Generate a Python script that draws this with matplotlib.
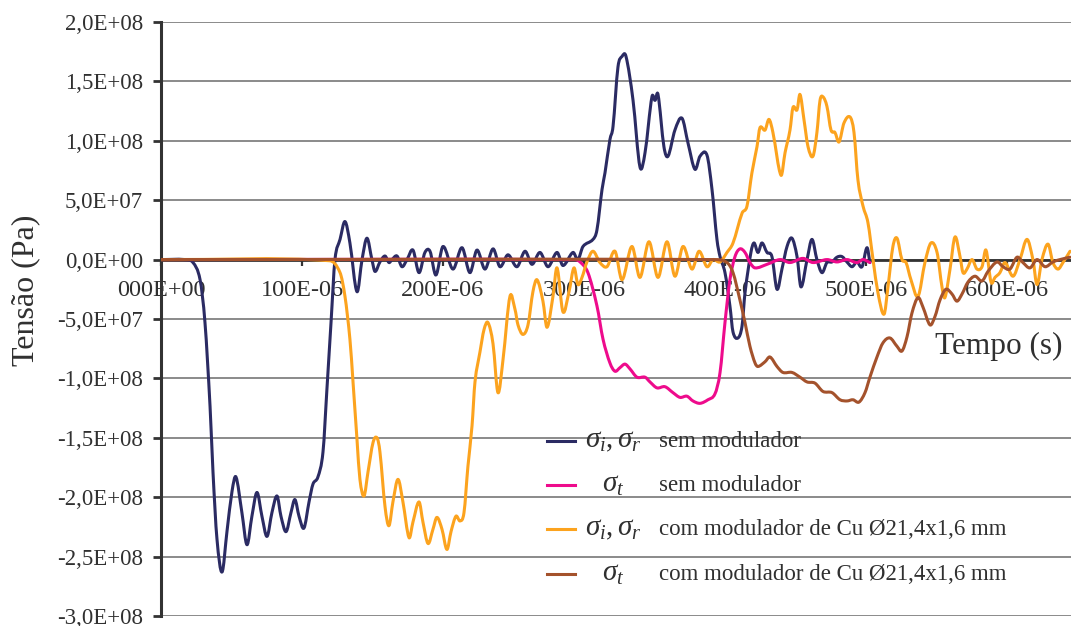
import numpy as np
import matplotlib
matplotlib.use('Agg')
import matplotlib.pyplot as plt
from matplotlib.lines import Line2D
from matplotlib.path import Path
from matplotlib.patches import PathPatch

# values: time in microseconds, stress in MPa
t_nav = [0, 17.0, 22.7, 27.7, 31.2, 34.8, 36.9, 39.7, 43.3, 46.8, 50.4, 53.2, 57.4, 61.0, 64.5,
         68.1, 71.6, 75.2, 78.7, 82.3, 85.1, 88.7, 92.2, 95.0, 97.9, 101.4, 105.0, 107.8, 111.3,
         114.9, 117.7, 120.6, 123.4, 127.0, 130.5, 134.0, 139.0, 142.6, 146.1, 149.6, 151.8,
         155.3, 158.9, 161.7, 163.8, 167.4, 170.9, 174.5, 178.7, 183.0, 187.2, 190.8, 195.0,
         200.0, 207.1, 213.5, 219.1, 224.1, 229.8, 235.5, 240.4, 246.1, 252.5, 258.2, 263.1,
         268.8, 274.5, 280.9, 285.1, 292.2, 295.7, 299.3, 306.4, 309.2, 312.8, 314.9, 318.4,
         320.6, 324.1, 327.0, 329.8, 334.8, 339.7, 343.3, 348.2, 350.4, 352.5, 356.7, 359.6,
         364.5, 369.5, 373.8, 378.7, 382.3, 387.2, 390.8, 394.3, 396.5, 400.0, 403.5, 405.7,
         409.2, 412.1, 414.2, 418.4, 420.6, 423.4, 426.2, 429.8, 433.3, 436.9, 440.4, 444.0,
         447.5, 451.1, 453.9, 458.2, 461.7, 465.2, 468.8, 472.3, 475.9, 479.4, 483.0, 486.5,
         490.1, 493.6, 497.2, 500.7, 502.8]
s_nav = [0, 0, -2.5, -16.8, -52.9, -123.5, -179, -235, -263, -229, -195, -183, -213, -240, -216,
         -196, -216, -233, -213, -199, -216, -229, -213, -202, -216, -226, -204, -189, -183,
         -162, -109, -53, 0, 17, 32, 14, -27, 0, 18, 0, -10,
         -2, 3, -2.5, 0, 3, -6, 0, 8, -11, 6, 7, -13,
         11, -8, 10, -11, 8, -8, 9, -6, 4, -6, 7, -4,
         6, -6, 6, -5, 6, 0, 11, 17, 25, 59, 73, 101,
         112, 162, 171, 171, 134, 78, 90, 137, 134, 139, 95, 87,
         109, 119, 98, 76, 87, 88, 59, 17, 2.5, -11, -39, -61,
         -66, -56, -28, 6, 14, 6, 14, 6, 2.5, -25, -8, 11,
         18, 2.5, -23, 0, 17, 0, -11, -2.5, -2, 2, 2.5, -2,
         -6, -2, -6, 10, -2.5]

t_pink = [0, 293.6, 297.2, 302.8, 309.2, 313.5, 318.4, 322.0, 325.5, 329.1, 332.6, 337.6, 343.3,
          346.8, 351.8, 357.4, 363.1, 368.1, 373.0, 377.3, 382.3, 387.9, 392.9, 396.5, 400.0,
          403.5, 407.1, 410.6, 414.2, 417.7, 421.3, 429.8, 439.0, 446.1, 455.3, 462.4, 472.3,
          479.4, 486.5, 493.6, 497.9, 502.8]
s_pink = [0, 0, -2, -11, -39, -67, -87, -94, -91, -88, -92, -99, -99,
          -103, -108, -107, -112, -116, -115, -119, -121, -118, -113, -95, -53,
          -17, 2.5, 9, 6, -2.5, -7, -4, 0, -2.5, 1, -2.5, 0,
          -2, 0, -2.5, 0, -2.5]

t_orng = [0, 119.9, 127.0, 130.5, 134.0, 136.2, 139.0, 141.1, 144.0, 146.8, 150.4, 153.2, 155.3,
          158.9, 161.7, 164.5, 168.1, 171.6, 175.9, 178.7, 183.0, 185.8, 189.4, 192.9, 195.7,
          199.3, 202.8, 205.7, 209.2, 212.1, 214.9, 217.7, 220.6, 222.7, 226.2, 229.1, 231.9,
          235.5, 239.0, 242.6, 247.5, 251.1, 253.2, 256.7, 260.3, 263.8, 266.7, 270.9, 273.8,
          278.0, 280.9, 285.1, 289.4, 292.9, 295.7, 298.6, 302.1, 306.4, 311.3, 316.3, 322.0,
          327.0, 334.0, 339.7, 346.1, 352.5, 358.9, 364.5, 370.2, 376.6, 381.6, 387.2, 391.5,
          396.5, 401.4, 405.7, 412.1, 415.6, 419.1, 422.7, 424.8, 428.4, 431.2, 434.0, 439.7,
          442.6, 446.1, 448.2, 451.1, 453.2, 456.0, 458.9, 462.4, 465.2, 467.4, 469.5, 472.3,
          475.2, 478.0, 480.9, 484.4, 488.7, 491.5, 494.3, 497.9, 501.4, 505.0, 508.5, 512.8,
          515.6, 519.1, 522.0, 525.5, 528.4, 531.9, 536.9, 541.8, 546.1, 550.4, 553.9, 556.0,
          559.6, 563.1, 566.7, 568.8, 571.6, 575.2, 578.7, 582.3, 585.1, 588.7, 591.5, 595.0,
          598.6, 604.3, 609.2, 614.2, 618.4, 621.3, 624.8, 629.1, 632.6, 636.2, 639.7, 644.7]
s_orng = [0, -1, -11, -31, -67, -103, -151, -185, -199, -179, -154, -150, -162,
          -208, -224, -204, -185, -204, -234, -221, -204, -221, -239, -227, -217,
          -227, -244, -229, -216, -220, -213, -174, -140, -103, -78, -59, -53,
          -71, -112, -84, -31, -42, -55, -63, -55, -27, -17, -35, -57,
          -31, -7, -44, -27, -7, -21, -15, -2, 7, -2.5, -6, 7,
          -17, 11, -15, 15, -15, 15, -14, 11, -8, 7, -6, 0,
          -2, 6, 14, 39, 45, 73, 95, 111, 109, 118, 107, 71,
          90, 109, 128, 126, 139, 118, 95, 87, 107, 134, 137, 129,
          109, 107, 99, 115, 120, 107, 67, 45, 31, 0, -28, -46,
          -23, 11, 18, 0, -2.5, -17, -31, -2.5, 14, 6, -23, -32,
          -8, 19, 2.5, -11, -8, 0, -8, -6, 8, -19, -15, -11,
          -2.5, -14, 0, 17, 0, -21, 0, 13, -2.5, -8, -2.5, 7]

t_brwn = [0, 392.9, 401.4, 405.7, 410.6, 414.2, 417.7, 421.3, 423.4, 428.4, 431.9, 436.9, 441.1,
          447.5, 453.2, 458.2, 463.8, 469.5, 475.9, 481.6, 486.5, 490.8, 495.0, 499.3, 502.8,
          507.8, 512.1, 517.0, 522.0, 525.5, 529.1, 532.6, 536.9, 540.4, 545.4, 548.9, 552.5,
          556.7, 561.0, 564.5, 568.1, 572.3, 577.3, 582.3, 586.5, 592.9, 597.2, 602.1, 607.1,
          611.3, 616.3, 621.3, 627.0, 632.6, 637.6, 644.7]
s_brwn = [0, 0, -2.5, -11, -34, -53, -73, -87, -90, -86, -82, -90, -95,
          -95, -99, -103, -104, -111, -112, -118, -119, -118, -120, -112, -99,
          -82, -70, -66, -73, -77, -65, -45, -32, -40, -55, -48, -34,
          -25, -29, -35, -29, -19, -14, -18, -10, -2, -6, -8, 2,
          -2.5, -7, 0, -6, -2, 0, 2]

y_ticks = [2.0e8, 1.5e8, 1.0e8, 5.0e7, 0.0, -5.0e7, -1.0e8, -1.5e8, -2.0e8, -2.5e8, -3.0e8]
y_tick_labels = ['2,0E+08', '1,5E+08', '1,0E+08', '5,0E+07', '0,0E+00', '-5,0E+07',
                 '-1,0E+08', '-1,5E+08', '-2,0E+08', '-2,5E+08', '-3,0E+08']
x_ticks = [0, 100e-6, 200e-6, 300e-6, 400e-6, 500e-6, 600e-6]
x_tick_labels = ['000E+00', '100E-06', '200E-06', '300E-06', '400E-06', '500E-06', '600E-06']

legend_sym = [r'$\sigma_{i},\sigma_{r}$', r'$\sigma_{t}$', r'$\sigma_{i},\sigma_{r}$', r'$\sigma_{t}$']
legend_txt = ['sem modulador', 'sem modulador',
              'com modulador de Cu Ø21,4x1,6 mm', 'com modulador de Cu Ø21,4x1,6 mm']
colors = ['#2B2B63', '#EE0B8C', '#FCA31E', '#A4522C']


def smooth_path(x, y):
    """Smoothed line through the points, drawn as cubic Bezier segments (like Excel)."""
    x = np.asarray(x, float)
    y = np.asarray(y, float)
    n = len(x)
    slope = np.zeros(n)
    slope[1:-1] = (y[2:] - y[:-2]) / (x[2:] - x[:-2])
    slope[0] = (y[1] - y[0]) / (x[1] - x[0])
    slope[-1] = (y[-1] - y[-2]) / (x[-1] - x[-2])
    verts = [(x[0], y[0])]
    codes = [Path.MOVETO]
    for i in range(n - 1):
        h = x[i + 1] - x[i]
        verts += [(x[i] + h / 3, y[i] + slope[i] * h / 3),
                  (x[i + 1] - h / 3, y[i + 1] - slope[i + 1] * h / 3),
                  (x[i + 1], y[i + 1])]
        codes += [Path.CURVE4] * 3
    return Path(verts, codes)


plt.rcParams['font.family'] = ['Liberation Serif', 'DejaVu Serif']
plt.rcParams['mathtext.fontset'] = 'custom'
plt.rcParams['mathtext.rm'] = 'Liberation Serif'
plt.rcParams['mathtext.it'] = 'Liberation Serif:italic'
TXT = '#303030'

fig = plt.figure(figsize=(10.71, 6.26), dpi=100)
ax = fig.add_axes([0.1503, 0.0160, 0.8497, 0.9489])

series = [(t_nav, s_nav), (t_pink, s_pink), (t_orng, s_orng), (t_brwn, s_brwn)]
for (t, s), c in zip(series, colors):
    path = smooth_path(np.array(t) * 1e-6, np.array(s) * 1e6)
    ax.add_patch(PathPatch(path, facecolor='none', edgecolor=c, lw=2.2, zorder=3,
                           joinstyle='round', capstyle='round'))

ax.set_xlim(0, 645.4e-6)
ax.set_ylim(-3.0e8, 2.0e8)
ax.set_yticks(y_ticks)
ax.set_yticklabels(y_tick_labels)
ax.set_xticks(x_ticks)
ax.set_xticklabels(x_tick_labels)

ax.yaxis.grid(True, color='#8a8a8a', lw=1.4)
ax.set_axisbelow(True)
for side in ['top', 'right']:
    ax.spines[side].set_visible(False)
ax.spines['bottom'].set_position(('data', 0))
ax.spines['bottom'].set_color('#333333')
ax.spines['bottom'].set_linewidth(2.0)
ax.spines['left'].set_color('#333333')
ax.spines['left'].set_linewidth(2.2)

ax.tick_params(axis='y', direction='out', length=6, width=2, pad=7, labelsize=16.5,
               colors='#333333', labelcolor=TXT)
ax.tick_params(axis='x', direction='out', length=4, width=1.6, pad=11, labelsize=17.5,
               colors='#333333', labelcolor=TXT)

fig.text(0.024, 0.537, 'Tensão (Pa)', rotation=90, ha='center', va='center',
         fontsize=23, color=TXT)
fig.text(0.992, 0.447, 'Tempo (s)', ha='right', va='center', fontsize=22.5, color=TXT)

# legend, laid out by hand to keep the two text columns aligned
row_y = [0.294, 0.220, 0.146, 0.0706]
for sym, txt, c, y in zip(legend_sym, legend_txt, colors, row_y):
    ax.add_line(Line2D([0.424, 0.455], [y, y], transform=ax.transAxes, color=c, lw=2.2,
                       clip_on=False, zorder=4))
    ax.text(0.497, y, sym, transform=ax.transAxes, ha='center', va='center',
            fontsize=21, color=TXT)
    ax.text(0.547, y, txt, transform=ax.transAxes, ha='left', va='center',
            fontsize=16.5, color=TXT)

fig.savefig('out.png', dpi=100, facecolor='white')
